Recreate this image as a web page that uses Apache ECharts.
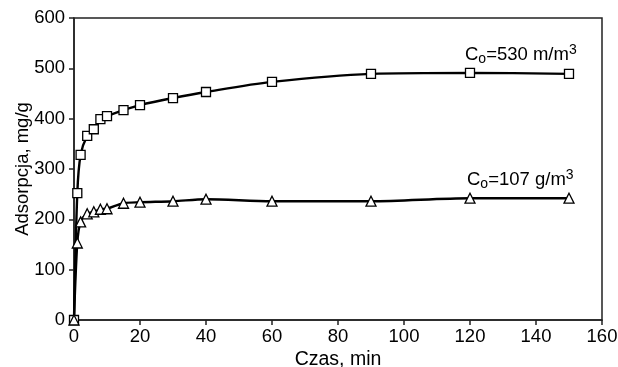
<!DOCTYPE html>
<html>
<head>
<meta charset="utf-8">
<script src="https://cdn.jsdelivr.net/npm/echarts@6/dist/echarts.min.js"></script>
<style>
  html, body { margin: 0; padding: 0; background: #fff; }
  #chart { width: 618px; height: 367px; }
</style>
</head>
<body>
<div id="chart"></div>
<script>
// time, min
const timeHigh = [0, 1, 2, 4, 6, 8, 10, 15, 20, 30, 40, 60, 90, 120, 150];
const adsHigh = [0, 252, 328, 366, 379, 399, 405, 417, 427, 441, 453, 473, 489, 491, 489];

const timeLow = [0, 1, 2, 4, 6, 8, 10, 15, 20, 30, 40, 60, 90, 120, 150];
const adsLow = [0, 153, 195, 211, 215, 220, 221, 232, 234, 236, 240, 236, 236, 242, 242];

const FONT = 'Liberation Sans, Arial, sans-serif';

const chart = echarts.init(document.getElementById('chart'), null, { renderer: 'canvas' });

function pairs(xs, ys) {
  return xs.map((x, i) => [x, ys[i]]);
}

const lineSeries = (name, data, symbol, size) => ({
  name: name,
  type: 'line',
  data: data,
  smooth: 0.3,
  symbol: symbol,
  symbolSize: size,
  showAllSymbol: true,
  lineStyle: { color: '#000', width: 2.4 },
  itemStyle: { color: '#fff', borderColor: '#000', borderWidth: 1.3 },
  z: 3
});

const richLabel = {
  n: { fontFamily: FONT, fontSize: 18.5 },
  sub: { fontFamily: FONT, fontSize: 14, padding: [9, 0, 0, 0] },
  sup: { fontFamily: FONT, fontSize: 14, padding: [0, 0, 9, 0] }
};

const option = {
  animation: false,
  grid: {
    left: 74, top: 18, right: 16, bottom: 47,
    containLabel: false,
    outerBoundsMode: 'none',
    show: true, borderColor: '#222', borderWidth: 1.5
  },
  xAxis: {
    type: 'value',
    min: 0, max: 160, interval: 20,
    name: 'Czas, min',
    nameLocation: 'middle',
    nameGap: 30,
    nameMoveOverlap: false,
    nameTextStyle: { fontFamily: FONT, fontSize: 19.5, color: '#000' },
    axisLine: { show: true, onZero: false, lineStyle: { color: '#222', width: 1.5 } },
    axisTick: { show: true, length: 5, lineStyle: { color: '#222', width: 1.5 } },
    axisLabel: { fontFamily: FONT, fontSize: 18.5, color: '#000', margin: 7 },
    splitLine: { show: false }
  },
  yAxis: {
    type: 'value',
    min: 0, max: 600, interval: 100,
    name: 'Adsorpcja, mg/g',
    nameLocation: 'middle',
    nameGap: 42,
    nameMoveOverlap: false,
    nameTextStyle: { fontFamily: FONT, fontSize: 18.5, color: '#000' },
    axisLine: { show: true, onZero: false, lineStyle: { color: '#222', width: 1.5 } },
    axisTick: { show: true, length: 5, lineStyle: { color: '#222', width: 1.5 } },
    axisLabel: { fontFamily: FONT, fontSize: 18.5, color: '#000', margin: 9 },
    splitLine: { show: false }
  },
  graphic: [
    {
      type: 'text', left: 465, top: 43, z: 10,
      style: {
        text: '{n|C}{sub|o}{n|=530 m/m}{sup|3}',
        rich: richLabel, fill: '#000'
      }
    },
    {
      type: 'text', left: 467, top: 168, z: 10,
      style: {
        text: '{n|C}{sub|o}{n|=107 g/m}{sup|3}',
        rich: richLabel, fill: '#000'
      }
    }
  ],
  series: [
    lineSeries('Co=530', pairs(timeHigh, adsHigh), 'rect', 9),
    lineSeries('Co=107', pairs(timeLow, adsLow), 'triangle', 10)
  ]
};

chart.setOption(option);
</script>
</body>
</html>
